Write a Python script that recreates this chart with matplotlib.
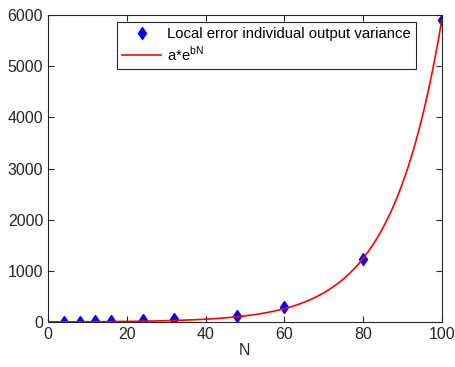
import numpy as np
import matplotlib
matplotlib.use('Agg')
import matplotlib.pyplot as plt

plt.rcParams['font.family'] = ['Liberation Sans', 'DejaVu Sans']

# datos
N = [4, 8, 12, 16, 24, 32, 48, 60, 80, 100]
varianza = [1, 3, 10, 14, 35, 55, 115, 293, 1235, 5900]
# parámetros del ajuste a*e^(bN)
a = 2.42
b = 0.078

fig = plt.figure(figsize=(4.55, 3.67), dpi=100)
ax = fig.add_axes([0.1055, 0.1226, 0.8655, 0.8364])

n_fit = np.linspace(0, 100, 400)
ax.plot(N, varianza, 'bd', markersize=6.5, label='Local error individual output variance')
ax.plot(n_fit, a * np.exp(b * n_fit), 'r-', linewidth=1.2, label=r'a*e$^{\mathregular{bN}}$')

ax.set_xlim(0, 100)
ax.set_ylim(0, 6000)
ax.set_xticks([0, 20, 40, 60, 80, 100])
ax.set_yticks([0, 1000, 2000, 3000, 4000, 5000, 6000])
ax.set_xlabel('N', fontsize=11.5, color='#262626', labelpad=1)
ax.tick_params(direction='in', top=True, right=True, labelsize=11.5, colors='#262626', length=4)
for s in ax.spines.values():
    s.set_color('#262626')
    s.set_linewidth(0.8)

leg = ax.legend(loc='upper right', bbox_to_anchor=(416 / 455, 1 - 22 / 367),
                bbox_transform=fig.transFigure, fontsize=10.7, fancybox=False,
                edgecolor='#262626', framealpha=1, borderaxespad=0, handlelength=2.6,
                borderpad=0.35, labelspacing=0.25, handletextpad=0.4)
leg.get_frame().set_linewidth(0.8)

fig.savefig('out.png', dpi=100)
